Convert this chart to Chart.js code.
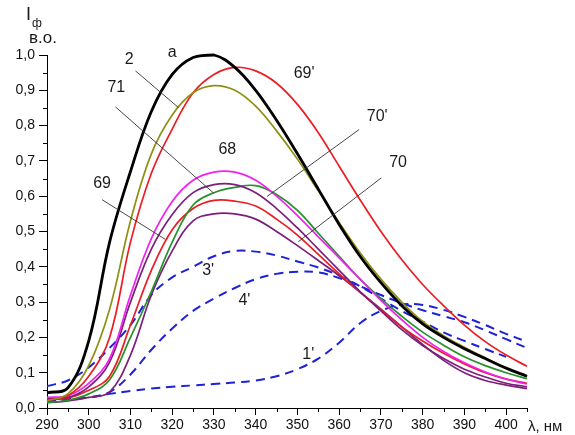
<!DOCTYPE html>
<html>
<head>
<meta charset="utf-8">
<script src="https://cdn.jsdelivr.net/npm/chart.js@4/dist/chart.umd.min.js"></script>
<style>
  html, body { margin: 0; padding: 0; background: #ffffff; }
  #wrap { width: 575px; height: 435px; }
</style>
</head>
<body>
<div id="wrap"><canvas id="chart" width="575" height="435"></canvas></div>
<script>
// Wavelength grid, nm
const wavelengths = [290, 295, 300, 305, 310, 315, 320, 325, 330, 335, 340, 345,
                     350, 355, 360, 365, 370, 375, 380, 385, 390, 395, 400, 405];

// Fluorescence intensity, relative units
const curveA   = [0.043, 0.057, 0.19, 0.47, 0.67, 0.84, 0.945, 0.993, 1.0, 0.965, 0.9, 0.815,
                  0.72, 0.62, 0.52, 0.43, 0.355, 0.29, 0.238, 0.2, 0.168, 0.14, 0.113, 0.09];
const curve2   = [0.02, 0.04, 0.12, 0.28, 0.53, 0.72, 0.83, 0.893, 0.913, 0.9, 0.855, 0.785,
                  0.705, 0.615, 0.525, 0.44, 0.365, 0.3, 0.245, 0.205, 0.172, 0.142, 0.113, 0.088];
const curve69p = [0.022, 0.035, 0.09, 0.2, 0.47, 0.665, 0.79, 0.893, 0.945, 0.965, 0.955, 0.92,
                  0.86, 0.78, 0.685, 0.59, 0.5, 0.42, 0.35, 0.29, 0.235, 0.188, 0.15, 0.118];
const curve68  = [0.03, 0.035, 0.07, 0.14, 0.32, 0.48, 0.585, 0.645, 0.668, 0.668, 0.645, 0.6,
                  0.545, 0.485, 0.425, 0.365, 0.305, 0.25, 0.2, 0.16, 0.128, 0.102, 0.082, 0.068];
const curve71  = [0.028, 0.03, 0.06, 0.13, 0.3, 0.45, 0.548, 0.61, 0.633, 0.633, 0.61, 0.565,
                  0.51, 0.45, 0.39, 0.33, 0.275, 0.222, 0.177, 0.14, 0.11, 0.088, 0.07, 0.06];
const curve70p = [0.015, 0.022, 0.04, 0.08, 0.2, 0.33, 0.47, 0.575, 0.61, 0.625, 0.63, 0.605,
                  0.56, 0.495, 0.43, 0.365, 0.31, 0.26, 0.215, 0.178, 0.145, 0.12, 0.1, 0.083];
const curve69  = [0.024, 0.028, 0.05, 0.09, 0.235, 0.39, 0.505, 0.565, 0.588, 0.586, 0.572, 0.535,
                  0.49, 0.435, 0.38, 0.328, 0.278, 0.23, 0.19, 0.155, 0.125, 0.1, 0.082, 0.07];
const curve70  = [0.015, 0.02, 0.03, 0.045, 0.15, 0.32, 0.445, 0.53, 0.55, 0.55, 0.535, 0.5,
                  0.46, 0.418, 0.375, 0.328, 0.28, 0.23, 0.18, 0.135, 0.1, 0.078, 0.065, 0.055];
const curve3p  = [0.062, 0.078, 0.115, 0.17, 0.235, 0.32, 0.37, 0.4, 0.43, 0.445, 0.443, 0.432,
                  0.415, 0.398, 0.375, 0.345, 0.31, 0.275, 0.245, 0.214, 0.19, 0.167, 0.145, null];
const curve4p  = [0.022, 0.025, 0.03, 0.045, 0.095, 0.165, 0.225, 0.275, 0.31, 0.34, 0.365, 0.38,
                  0.386, 0.384, 0.368, 0.345, 0.32, 0.297, 0.277, 0.26, 0.243, 0.22, 0.195, 0.17];
const curve1p  = [0.02, 0.025, 0.03, 0.04, 0.048, 0.055, 0.06, 0.064, 0.068, 0.072, 0.078, 0.09,
                  0.11, 0.14, 0.185, 0.24, 0.275, 0.293, 0.292, 0.278, 0.258, 0.235, 0.21, 0.188];

// Axis ticks
const xTickValues = [290, 300, 310, 320, 330, 340, 350, 360, 370, 380, 390, 400];
const xMinorTicks = [295, 305, 315, 325, 335, 345, 355, 365, 375, 385, 395, 405];
const yTickValues = [0, 0.1, 0.2, 0.3, 0.4, 0.5, 0.6, 0.7, 0.8, 0.9, 1.0];
const yMinorTicks = [0.05, 0.15, 0.25, 0.35, 0.45, 0.55, 0.65, 0.75, 0.85, 0.95];

// Curve names placed in data units, with leader lines where used
const curveNames = [
  { text: 'a',   x: 320.0, y: 1.007 },
  { text: '2',   x: 309.7, y: 0.988 },
  { text: '71',  x: 306.6, y: 0.908 },
  { text: '69',  x: 303.2, y: 0.636 },
  { text: '68',  x: 333.2, y: 0.732 },
  { text: "69'", x: 351.6, y: 0.948 },
  { text: "70'", x: 369.1, y: 0.826 },
  { text: '70',  x: 374.1, y: 0.695 },
  { text: "3'",  x: 328.6, y: 0.388 },
  { text: "4'",  x: 337.3, y: 0.303 },
  { text: "1'",  x: 352.6, y: 0.152 }
];
const leaderLines = [
  { x1: 311.2, y1: 0.955, x2: 321.5, y2: 0.851 },
  { x1: 306.4, y1: 0.853, x2: 329.9, y2: 0.609 },
  { x1: 303.2, y1: 0.590, x2: 318.3, y2: 0.478 },
  { x1: 364.8, y1: 0.789, x2: 342.7, y2: 0.599 },
  { x1: 370.1, y1: 0.652, x2: 350.2, y2: 0.471 }
];

const FONT = "'Liberation Sans', Arial, sans-serif";

function series(values, color, width, dash) {
  return {
    data: wavelengths.map((x, i) => ({ x: x, y: values[i] })),
    borderColor: color,
    borderWidth: width,
    borderDash: dash || [],
    pointRadius: 0,
    fill: false,
    tension: 0.38,
    spanGaps: false,
    clip: false
  };
}

const BLUE = '#1d22d8';
const datasets = [
  series(curveA,   '#000000', 2.8),
  series(curve2,   '#8f8f12', 1.7),
  series(curve69p, '#ec1c24', 1.7),
  series(curve68,  '#f020f0', 1.7),
  series(curve71,  '#7b1f7b', 1.7),
  series(curve70p, '#25912a', 1.7),
  series(curve69,  '#ec1c24', 1.7),
  series(curve70,  '#7b1f7b', 1.7),
  series(curve3p,  BLUE, 2, [9, 6]),
  series(curve4p,  BLUE, 2, [9, 6]),
  series(curve1p,  BLUE, 2, [9, 6])
];

// Minor ticks, annotations and axis captions
const decorations = {
  id: 'decorations',
  afterDraw(chart) {
    const ctx = chart.ctx;
    const xs = chart.scales.x, ys = chart.scales.y;
    const area = chart.chartArea;
    ctx.save();
    ctx.strokeStyle = '#000';
    ctx.lineWidth = 1;
    ctx.beginPath();
    xMinorTicks.forEach(v => {
      const px = Math.round(xs.getPixelForValue(v)) + 0.5;
      ctx.moveTo(px, area.bottom);
      ctx.lineTo(px, area.bottom + 4);
    });
    yMinorTicks.forEach(v => {
      const py = Math.round(ys.getPixelForValue(v)) + 0.5;
      ctx.moveTo(area.left, py);
      ctx.lineTo(area.left - 4, py);
    });
    ctx.stroke();

    // leader lines
    ctx.strokeStyle = '#333';
    ctx.lineWidth = 0.9;
    ctx.beginPath();
    leaderLines.forEach(l => {
      ctx.moveTo(xs.getPixelForValue(l.x1), ys.getPixelForValue(l.y1));
      ctx.lineTo(xs.getPixelForValue(l.x2), ys.getPixelForValue(l.y2));
    });
    ctx.stroke();

    // curve names
    ctx.fillStyle = '#1a1a1a';
    ctx.font = '16px ' + FONT;
    ctx.textAlign = 'center';
    ctx.textBaseline = 'middle';
    curveNames.forEach(n => {
      ctx.fillText(n.text, xs.getPixelForValue(n.x), ys.getPixelForValue(n.y));
    });

    // axis captions
    ctx.textAlign = 'left';
    ctx.textBaseline = 'alphabetic';
    ctx.font = '18px ' + FONT;
    ctx.fillText('I', 26, 20);
    ctx.font = '12px ' + FONT;
    ctx.fillText('ф', 32, 27);
    ctx.font = '17px ' + FONT;
    ctx.fillText('в.о.', 29, 43);
    ctx.font = '15px ' + FONT;
    ctx.fillText('λ, нм', 528, 431);
    ctx.restore();
  }
};

new Chart(document.getElementById('chart'), {
  type: 'line',
  data: { datasets: datasets },
  options: {
    responsive: false,
    animation: false,
    devicePixelRatio: 1,
    layout: { padding: { top: 55, right: 48, bottom: 0, left: 0 } },
    plugins: { legend: { display: false }, tooltip: { enabled: false } },
    scales: {
      x: {
        type: 'linear',
        min: 290,
        max: 405,
        afterBuildTicks: s => { s.ticks = xTickValues.map(v => ({ value: v })); },
        afterFit: s => { s.height = 27; },
        grid: { display: true, drawOnChartArea: false, drawTicks: true, tickLength: 7, color: '#000', tickColor: '#000' },
        border: { display: true, color: '#000', width: 1 },
        ticks: {
          color: '#111',
          font: { family: FONT, size: 14 },
          padding: 2,
          maxRotation: 0,
          autoSkip: false,
          callback: v => String(v)
        }
      },
      y: {
        type: 'linear',
        min: 0,
        max: 1.0,
        afterBuildTicks: s => { s.ticks = yTickValues.map(v => ({ value: v })); },
        afterFit: s => { s.width = 47; },
        grid: { display: true, drawOnChartArea: false, drawTicks: true, tickLength: 8, color: '#000', tickColor: '#000' },
        border: { display: true, color: '#000', width: 1 },
        ticks: {
          color: '#111',
          font: { family: FONT, size: 14 },
          padding: 4,
          autoSkip: false,
          callback: v => v.toFixed(1).replace('.', ',')
        }
      }
    }
  },
  plugins: [decorations]
});
</script>
</body>
</html>
